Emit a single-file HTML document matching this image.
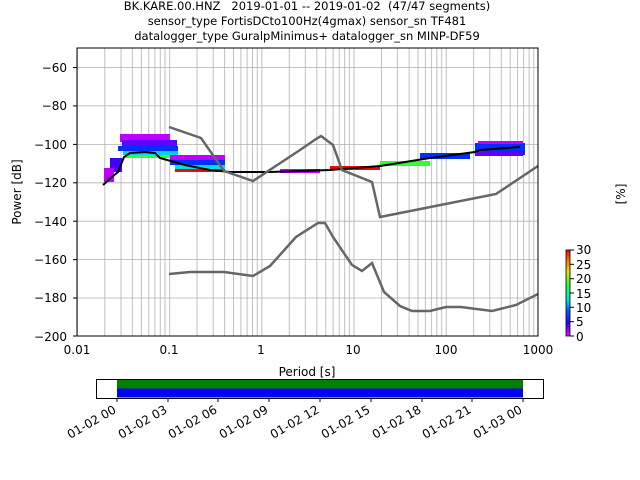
<!DOCTYPE html>
<html><head><style>
body{margin:0;background:#fff;}
svg{display:block;font-family:"DejaVu Sans","Liberation Sans",sans-serif;}
</style></head><body>
<svg width="640" height="480" viewBox="0 0 640 480" xmlns="http://www.w3.org/2000/svg">
<defs>
<pattern id="vg" x="77" y="0" width="92.2" height="480" patternUnits="userSpaceOnUse">
<g stroke="#b0b0b0" stroke-width="0.8">
<line x1="0.4" y1="0" x2="0.4" y2="480"/>
<line x1="27.8" y1="0" x2="27.8" y2="480"/>
<line x1="44" y1="0" x2="44" y2="480"/>
<line x1="55.5" y1="0" x2="55.5" y2="480"/>
<line x1="64.4" y1="0" x2="64.4" y2="480"/>
<line x1="71.7" y1="0" x2="71.7" y2="480"/>
<line x1="77.9" y1="0" x2="77.9" y2="480"/>
<line x1="83.3" y1="0" x2="83.3" y2="480"/>
<line x1="88" y1="0" x2="88" y2="480"/>
</g></pattern>
<linearGradient id="cb" x1="0" y1="1" x2="0" y2="0">
<stop offset="0" stop-color="#ff00ff"/><stop offset="0.15" stop-color="#3000ff"/>
<stop offset="0.3" stop-color="#0060ff"/><stop offset="0.42" stop-color="#00e0e0"/>
<stop offset="0.6" stop-color="#30ff30"/><stop offset="0.75" stop-color="#e0e000"/>
<stop offset="0.9" stop-color="#ff6000"/><stop offset="1" stop-color="#ff0000"/>
</linearGradient>
</defs>
<g font-size="11.5" text-anchor="middle" fill="#000">
<text x="307" y="10">BK.KARE.00.HNZ&#160;&#160;&#160;2019-01-01 -- 2019-01-02&#160;&#160;(47/47 segments)</text>
<text x="307" y="25">sensor_type FortisDCto100Hz(4gmax) sensor_sn TF481</text>
<text x="307" y="40">datalogger_type GuralpMinimus+ datalogger_sn MINP-DF59</text>
</g>
<rect x="77" y="48" width="461" height="288" fill="url(#vg)"/>
<g stroke="#b0b0b0" stroke-width="0.8">
<line x1="77" x2="538" y1="67.5" y2="67.5"/><line x1="77" x2="538" y1="105.9" y2="105.9"/>
<line x1="77" x2="538" y1="144.4" y2="144.4"/><line x1="77" x2="538" y1="182.8" y2="182.8"/>
<line x1="77" x2="538" y1="221.2" y2="221.2"/><line x1="77" x2="538" y1="259.6" y2="259.6"/>
<line x1="77" x2="538" y1="298" y2="298"/>
</g>
<g>
<rect x="120" y="134" width="50" height="8" fill="#c000ff"/>
<rect x="122" y="140" width="55" height="6" fill="#6000ff"/>
<rect x="118" y="146" width="60" height="5" fill="#0030ff"/>
<rect x="123" y="151" width="55" height="4" fill="#00d0ff"/>
<rect x="125" y="155" width="50" height="3" fill="#30ff30"/>
<rect x="110" y="158" width="12" height="14" fill="#4000ff"/>
<rect x="104" y="168" width="10" height="14" fill="#c000ff"/>
<rect x="170" y="155" width="55" height="6" fill="#c000ff"/>
<rect x="170" y="160" width="55" height="5" fill="#0030ff"/>
<rect x="175" y="165" width="50" height="4" fill="#00e0e0"/>
<rect x="175" y="169" width="50" height="3" fill="#ff0000"/>
<rect x="280" y="169" width="40" height="4" fill="#c000ff"/>
<rect x="330" y="166" width="50" height="4" fill="#ff0000"/>
<rect x="380" y="161" width="50" height="5" fill="#30ff30"/>
<rect x="420" y="153" width="50" height="6" fill="#0030ff"/>
<rect x="475" y="143" width="50" height="12" fill="#0030ff"/>
<rect x="478" y="141" width="45" height="3" fill="#c000ff"/>
<rect x="475" y="151" width="48" height="5" fill="#6000ff"/>
</g>
<polyline fill="none" stroke="#000" stroke-width="2" points="103,185 112,177 118,172 124,157 130,153 145,152 155,153 160,158 185,165 210,170 230,172 270,172 330,170 380,166 430,158 475,152 480,150 520,147"/>
<g fill="none" stroke="#666" stroke-width="2.5">
<polyline points="169,127 201,138 224,171 253,181 300,150 316,139 321,136 333,145 342,170 372,182 380,217 496,194 538,166"/>
<polyline points="169,274 190,272 224,272 253,276 270,266 296,237 318,223 325,223 333,237 352,265 362,271 372,263 384,292 400,306 412,311 430,311 446,307 461,307 492,311 516,305 538,294"/>
</g>
<rect x="77" y="48" width="461" height="288" fill="none" stroke="#000" stroke-width="1"/>
<g font-size="12" fill="#000" text-anchor="end">
<text x="67" y="72">−60</text><text x="67" y="110">−80</text><text x="67" y="149">−100</text>
<text x="67" y="187">−120</text><text x="67" y="226">−140</text><text x="67" y="264">−160</text>
<text x="67" y="302">−180</text><text x="67" y="341">−200</text>
</g>
<g stroke="#000"><line x1="73" x2="77" y1="67.5" y2="67.5"/><line x1="73" x2="77" y1="105.9" y2="105.9"/><line x1="73" x2="77" y1="144.4" y2="144.4"/><line x1="73" x2="77" y1="182.8" y2="182.8"/><line x1="73" x2="77" y1="221.2" y2="221.2"/><line x1="73" x2="77" y1="259.6" y2="259.6"/><line x1="73" x2="77" y1="298" y2="298"/><line x1="73" x2="77" y1="336" y2="336"/></g>
<g font-size="12" text-anchor="middle">
<text x="77" y="354">0.01</text><text x="169" y="354">0.1</text><text x="261" y="354">1</text>
<text x="353" y="354">10</text><text x="446" y="354">100</text><text x="538" y="354">1000</text>
<text x="307" y="376">Period [s]</text>
</g>
<text font-size="12" transform="translate(21,192) rotate(-90)" text-anchor="middle">Power [dB]</text>
<text font-size="12" transform="translate(625,194) rotate(-90)" text-anchor="middle">[%]</text>
<rect x="566" y="250" width="4" height="86" fill="url(#cb)" stroke="#000" stroke-width="0.8"/>
<g font-size="12"><text x="576" y="254">30</text><text x="576" y="269">25</text><text x="576" y="283">20</text><text x="576" y="298">15</text><text x="576" y="312">10</text><text x="576" y="326">5</text><text x="576" y="341">0</text></g>
<g stroke="#000"><line x1="570" x2="574" y1="250" y2="250"/><line x1="570" x2="574" y1="264.3" y2="264.3"/><line x1="570" x2="574" y1="278.7" y2="278.7"/><line x1="570" x2="574" y1="293" y2="293"/><line x1="570" x2="574" y1="307.3" y2="307.3"/><line x1="570" x2="574" y1="321.7" y2="321.7"/><line x1="570" x2="574" y1="336" y2="336"/></g>
<rect x="117" y="380" width="406" height="8.5" fill="#008000"/>
<rect x="117" y="388.5" width="406" height="9" fill="#0000ff"/>
<rect x="96.5" y="379.5" width="447" height="19" fill="none" stroke="#000"/>
<g font-size="12" text-anchor="end">
<text transform="translate(117,412) rotate(-30)">01-02 00</text>
<text transform="translate(168,412) rotate(-30)">01-02 03</text>
<text transform="translate(218,412) rotate(-30)">01-02 06</text>
<text transform="translate(269,412) rotate(-30)">01-02 09</text>
<text transform="translate(320,412) rotate(-30)">01-02 12</text>
<text transform="translate(371,412) rotate(-30)">01-02 15</text>
<text transform="translate(422,412) rotate(-30)">01-02 18</text>
<text transform="translate(472,412) rotate(-30)">01-02 21</text>
<text transform="translate(523,412) rotate(-30)">01-03 00</text>
</g>
<g stroke="#000"><line x1="117" x2="117" y1="398" y2="402"/><line x1="168" x2="168" y1="398" y2="402"/><line x1="218" x2="218" y1="398" y2="402"/><line x1="269" x2="269" y1="398" y2="402"/><line x1="320" x2="320" y1="398" y2="402"/><line x1="371" x2="371" y1="398" y2="402"/><line x1="422" x2="422" y1="398" y2="402"/><line x1="472" x2="472" y1="398" y2="402"/><line x1="523" x2="523" y1="398" y2="402"/></g>
</svg>
</body></html>
